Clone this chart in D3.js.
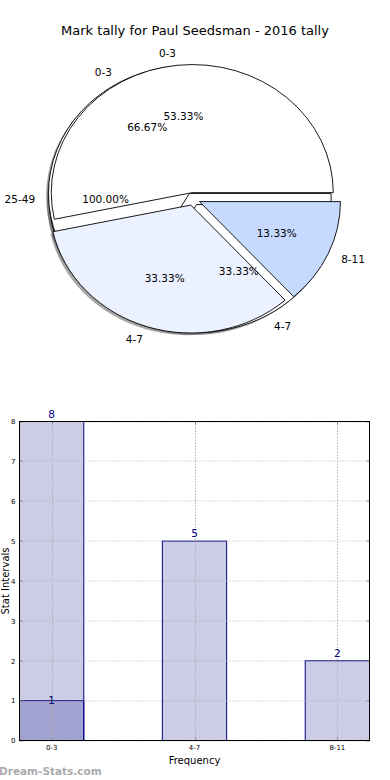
<!DOCTYPE html>
<html><head><meta charset="utf-8">
<script src="https://cdn.jsdelivr.net/npm/d3@7"></script>
<style>body{margin:0;background:#fff;} svg{display:block;font-family:"DejaVu Sans",sans-serif;}</style>
</head><body><svg id="c" width="390" height="780"></svg>
<script>
const pieALabels = ["25-49"];
const pieAValues = [1];
const pieBLabels = ["0-3", "4-7"];
const pieBValues = [2, 1];
const pieCLabels = ["0-3", "4-7", "8-11"];
const pieCValues = [8, 5, 2];
const pieAColors = ["#ffffff"];
const pieBColors = ["#ffffff", "#ffffff"];
const pieCColors = ["#ffffff", "#ebf1ff", "#c6d9ff"];
const barCategories = ["0-3", "4-7", "8-11"];
const barSeriesA = [8, 5, 2];
const barSeriesB = [1, null, null];
const yTickValues = [0, 1, 2, 3, 4, 5, 6, 7, 8];

const svg = d3.select("#c");
svg.append("rect").attr("width",390).attr("height",780).attr("fill","#fff");
svg.append("text").attr("x",195).attr("y",35).attr("text-anchor","middle").attr("font-size",13).text("Mark tally for Paul Seedsman - 2016 tally");

// ---------- Pie ----------
const cx=193, cy=199, rx=141, ry=128;
const pies=[
  {labels:pieALabels, values:pieAValues, colors:pieAColors, explode:0.02},
  {labels:pieBLabels, values:pieBValues, colors:pieBColors, explode:0.05},
  {labels:pieCLabels, values:pieCValues, colors:pieCColors, explode:0.05}
];
const pieGen=d3.pie().sort(null).startAngle(Math.PI/2).endAngle(Math.PI/2-2*Math.PI);
const arcGen=d3.arc().innerRadius(0).outerRadius(1);
const shadowLayer=svg.append("g"), wedgeLayer=svg.append("g"), textLayer=svg.append("g");
pies.forEach(p=>{
  const arcs=pieGen(p.values);
  const total=d3.sum(p.values);
  arcs.forEach((a,i)=>{
    const mid=(a.startAngle+a.endAngle)/2;
    const ux=Math.sin(mid), uy=-Math.cos(mid);
    const ox=cx+p.explode*ux*rx, oy=cy+p.explode*uy*ry;
    const d=arcGen(a);
    shadowLayer.append("path").attr("d",d)
      .attr("transform",`translate(${ox-2.4},${oy+2.2}) scale(${rx},${ry})`)
      .attr("fill","#4d4d4d").attr("fill-opacity",0.5);
    wedgeLayer.append("path").attr("d",d)
      .attr("transform",`translate(${ox},${oy}) scale(${rx},${ry})`)
      .attr("fill",p.colors[i]).attr("stroke","#000").attr("stroke-width",0.9)
      .attr("vector-effect","non-scaling-stroke");
    textLayer.append("text").attr("x",ox+1.1*ux*rx).attr("y",oy+1.1*uy*ry)
      .attr("text-anchor",ux>0?"start":"end").attr("dominant-baseline","central")
      .attr("font-size",10.5).text(p.labels[i]);
    textLayer.append("text").attr("x",ox+0.6*ux*rx).attr("y",oy+0.6*uy*ry)
      .attr("text-anchor","middle").attr("dominant-baseline","central")
      .attr("font-size",10.5).text((100*p.values[i]/total).toFixed(2)+"%");
  });
});

// ---------- Bars ----------
const L=19.5, R=369.5, T=421.5, B=740.5;
const x=d3.scaleBand().domain(barCategories).range([L,R]).paddingInner(0.55).paddingOuter(0);
const y=d3.scaleLinear().domain([0,8]).range([B,T]);
const g=svg.append("g");
[barSeriesA, barSeriesB].forEach(s=>{
  g.append("g").selectAll("rect")
    .data(barCategories.map((c,i)=>({c, v:s[i]})).filter(d=>d.v!=null))
    .join("rect")
    .attr("x",d=>x(d.c)).attr("width",x.bandwidth())
    .attr("y",d=>y(d.v)).attr("height",d=>y(0)-y(d.v))
    .attr("fill","#000080").attr("fill-opacity",0.2)
    .attr("stroke","#000080").attr("stroke-width",1);
});
// grid
const grid=svg.append("g").attr("stroke","#b0b0b0").attr("stroke-width",1);
yTickValues.forEach(v=>{
  const yy=Math.round(y(v));
  grid.append("line").attr("x1",L).attr("x2",R).attr("y1",yy).attr("y2",yy).attr("stroke-dasharray","1,2");
});
barCategories.forEach(c=>{
  const xc=Math.round(x(c)+x.bandwidth()/2)+0.5;
  grid.append("line").attr("x1",xc).attr("x2",xc).attr("y1",T).attr("y2",B).attr("stroke-dasharray","1.5,1.5");
});
// ticks (inward)
const ticks=svg.append("g").attr("stroke","#888").attr("stroke-width",1);
yTickValues.forEach(v=>{
  const yy=Math.round(y(v));
  ticks.append("line").attr("x1",L).attr("x2",L+3).attr("y1",yy).attr("y2",yy);
  ticks.append("line").attr("x1",R-3).attr("x2",R).attr("y1",yy).attr("y2",yy);
});
barCategories.forEach(c=>{
  const xc=Math.round(x(c)+x.bandwidth()/2)+0.5;
  ticks.append("line").attr("x1",xc).attr("x2",xc).attr("y1",T).attr("y2",T+3);
  ticks.append("line").attr("x1",xc).attr("x2",xc).attr("y1",B-3).attr("y2",B);
});
// frame
svg.append("rect").attr("x",L).attr("y",T).attr("width",R-L).attr("height",B-T)
  .attr("fill","none").attr("stroke","#000").attr("stroke-width",1);

// axes labels via d3 axes
const yAxis=d3.axisLeft(y).tickValues(yTickValues).tickSize(0).tickPadding(4).tickFormat(d3.format("d"));
const ya=svg.append("g").attr("transform",`translate(${L},0)`).call(yAxis);
ya.select(".domain").remove();
ya.selectAll("text").attr("font-size",7).attr("font-family","DejaVu Sans").attr("fill","#000");
const xAxis=d3.axisBottom(x).tickSize(0).tickPadding(5);
const xa=svg.append("g").attr("transform",`translate(0,${B})`).call(xAxis);
xa.select(".domain").remove();
xa.selectAll("text").attr("font-size",7).attr("font-family","DejaVu Sans").attr("fill","#000");

// value labels
barSeriesA.forEach((v,i)=>{
  if(v==null) return;
  svg.append("text").attr("x",x(barCategories[i])+x.bandwidth()/2).attr("y",y(v)-4)
    .attr("text-anchor","middle").attr("font-size",10.5).attr("fill","#000080").text(v);
});
barSeriesB.forEach((v,i)=>{
  if(v==null) return;
  svg.append("text").attr("x",x(barCategories[i])+x.bandwidth()/2).attr("y",y(v)+3)
    .attr("text-anchor","middle").attr("font-size",10.5).attr("fill","#000060").text(v);
});

svg.append("text").attr("x",(L+R)/2).attr("y",764).attr("text-anchor","middle").attr("font-size",10).text("Frequency");
svg.append("text").attr("transform",`translate(8.5,${(T+B)/2}) rotate(-90)`).attr("text-anchor","middle").attr("font-size",10).text("Stat Intervals");

svg.append("text").attr("x",-1).attr("y",775).attr("font-size",10.5).attr("font-weight","bold").attr("fill","#aaaaaa").text("Dream-Stats.com");
</script></body></html>
